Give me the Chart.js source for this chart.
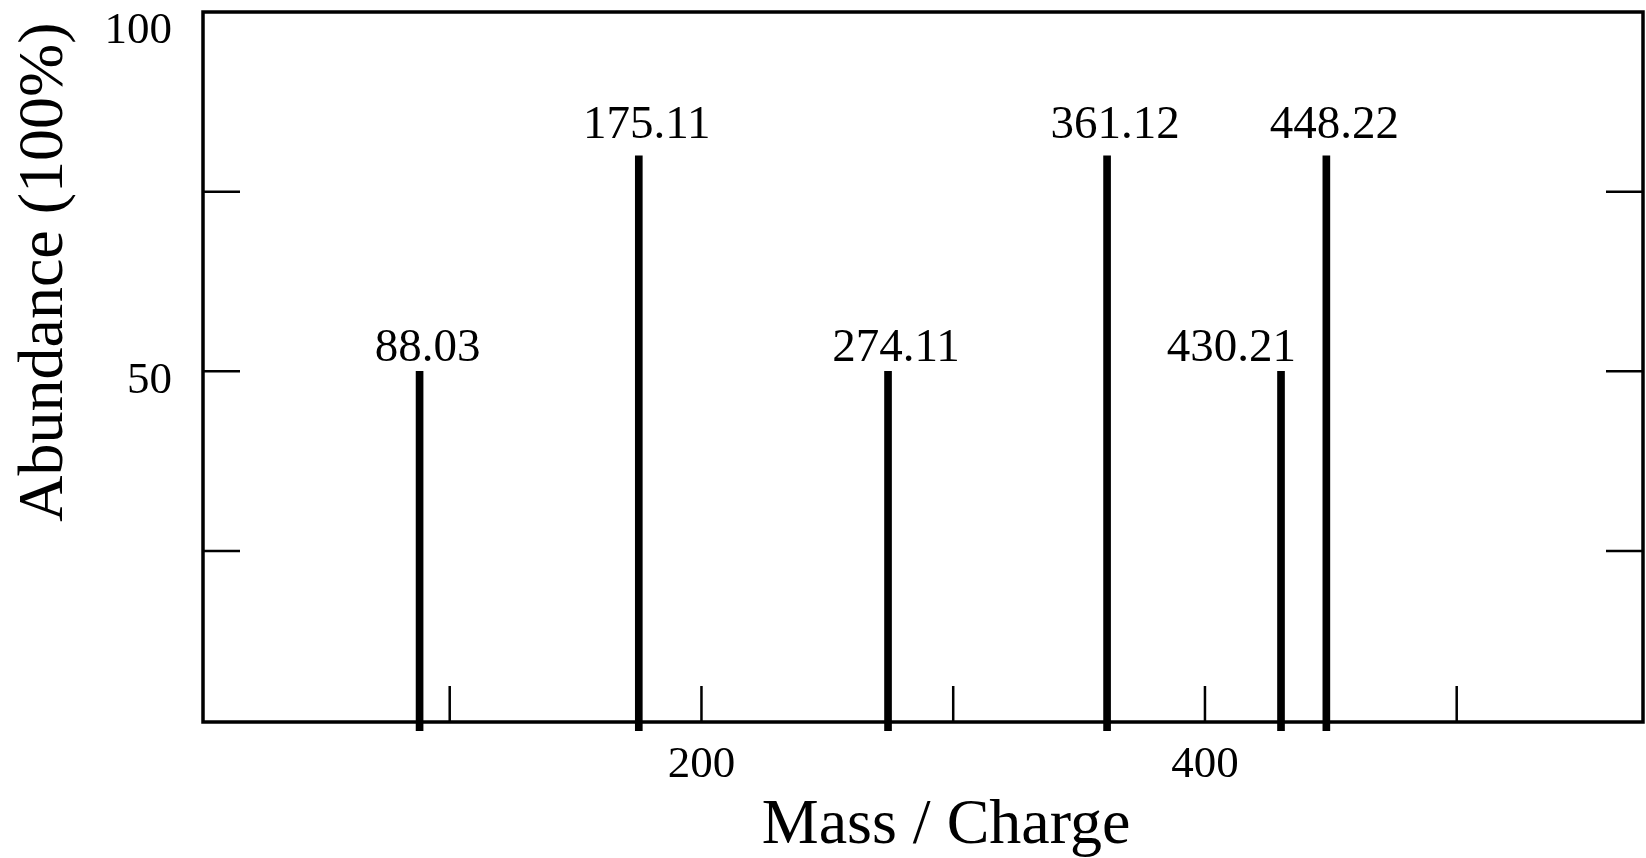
<!DOCTYPE html>
<html>
<head>
<meta charset="utf-8">
<title>Mass Spectrum</title>
<script src="https://cdn.jsdelivr.net/npm/chart.js@4.4.1/dist/chart.umd.min.js"></script>
<style>
  html, body { margin: 0; padding: 0; background: #fff; }
  #wrap { width: 1646px; height: 858px; }
</style>
</head>
<body>
<div id="wrap"><canvas id="spectrum"></canvas></div>
<script>
// PEAK DATA (m/z and relative abundance)
const masses = [88.03, 175.11, 274.11, 361.12, 430.21, 448.22];
const abundance = [50, 80, 50, 80, 50, 80];

// AXIS TICKS
const xTicks = [100, 200, 300, 400, 500];
const xTickLabels = [200, 400];
const yTicks = [25, 50, 75, 100];
const yTickLabels = [50, 100];

const xTitle = 'Mass / Charge';
const yTitle = 'Abundance (100%)';

const SERIF = '"Liberation Serif", "Times New Roman", serif';

// frame, inward ticks, peak labels, y labels and axis titles
const spectrumPlugin = {
    id: 'spectrum',
    beforeDatasetsDraw(chart) {
        const { ctx, chartArea: a, scales: { x, y } } = chart;
        ctx.save();
        ctx.strokeStyle = '#000';
        ctx.lineWidth = 3.5;
        ctx.strokeRect(a.left, a.top, a.right - a.left, a.bottom - a.top);
        ctx.lineWidth = 2.5;
        ctx.beginPath();
        xTicks.forEach(v => {
            const px = x.getPixelForValue(v);
            ctx.moveTo(px, a.bottom);
            ctx.lineTo(px, a.bottom - 36);
        });
        yTicks.filter(v => v < y.max).forEach(v => {
            const py = y.getPixelForValue(v);
            ctx.moveTo(a.left, py);
            ctx.lineTo(a.left + 37, py);
            ctx.moveTo(a.right, py);
            ctx.lineTo(a.right - 37, py);
        });
        ctx.stroke();
        ctx.restore();
    },
    afterDatasetsDraw(chart) {
        const { ctx, scales: { y } } = chart;
        const bars = chart.getDatasetMeta(0).data;
        ctx.save();
        ctx.fillStyle = '#000';
        ctx.font = '47px ' + SERIF;
        ctx.textBaseline = 'alphabetic';
        bars.forEach((bar, i) => {
            const py = y.getPixelForValue(abundance[i] * 1.03);
            const next = masses[i + 1];
            if (next !== undefined && next - masses[i] < 40) {
                // crowded peak: label sits to the left of its line
                ctx.textAlign = 'right';
                ctx.fillText(masses[i].toFixed(2), bar.x + 15, py);
            } else {
                ctx.textAlign = 'center';
                ctx.fillText(masses[i].toFixed(2), bar.x + 8, py);
            }
        });
        ctx.restore();
    },
    afterDraw(chart) {
        const { ctx, chartArea: a, scales: { y } } = chart;
        ctx.save();
        ctx.fillStyle = '#000';

        // y tick labels, kept inside the plot height
        ctx.font = '45px ' + SERIF;
        ctx.textAlign = 'right';
        ctx.textBaseline = 'alphabetic';
        yTickLabels.forEach(v => {
            const base = Math.max(y.getPixelForValue(v) + 22, a.top + 31);
            ctx.fillText(String(v), a.left - 31, base);
        });

        ctx.font = '64px ' + SERIF;
        ctx.textAlign = 'center';
        ctx.fillText(xTitle, (a.left + a.right) / 2 + 23, a.bottom + 121);
        ctx.translate(62, a.top + 260);
        ctx.rotate(-Math.PI / 2);
        ctx.fillText(yTitle, 0, 0);
        ctx.restore();
    }
};

new Chart(document.getElementById('spectrum'), {
    type: 'bar',
    data: {
        datasets: [{
            data: masses.map((m, i) => ({ x: m, y: abundance[i] })),
            backgroundColor: '#000',
            borderWidth: 0,
            barThickness: 7,
            clip: false
        }]
    },
    options: {
        responsive: true,
        maintainAspectRatio: false,
        animation: false,
        layout: { padding: { top: 12, right: 3, left: 0, bottom: 0 } },
        plugins: { legend: { display: false }, tooltip: { enabled: false } },
        scales: {
            x: {
                type: 'linear',
                min: 2,
                max: 574,
                offset: false,
                grid: { display: false, drawTicks: false },
                border: { display: false },
                afterBuildTicks: s => { s.ticks = xTicks.map(v => ({ value: v })); },
                afterFit: s => { s.height = 136; s.paddingLeft = 0; s.paddingRight = 0; },
                ticks: {
                    color: '#000',
                    padding: 16,
                    maxRotation: 0,
                    font: { family: SERIF, size: 45 },
                    callback: v => xTickLabels.includes(v) ? String(v) : ''
                }
            },
            y: {
                min: 1.2,
                max: 100,
                grid: { display: false, drawTicks: false },
                border: { display: false },
                afterBuildTicks: s => { s.ticks = yTicks.map(v => ({ value: v })); },
                afterFit: s => { s.width = 203; s.paddingTop = 0; s.paddingBottom = 0; },
                ticks: { display: false }
            }
        }
    },
    plugins: [spectrumPlugin]
});
</script>
</body>
</html>
